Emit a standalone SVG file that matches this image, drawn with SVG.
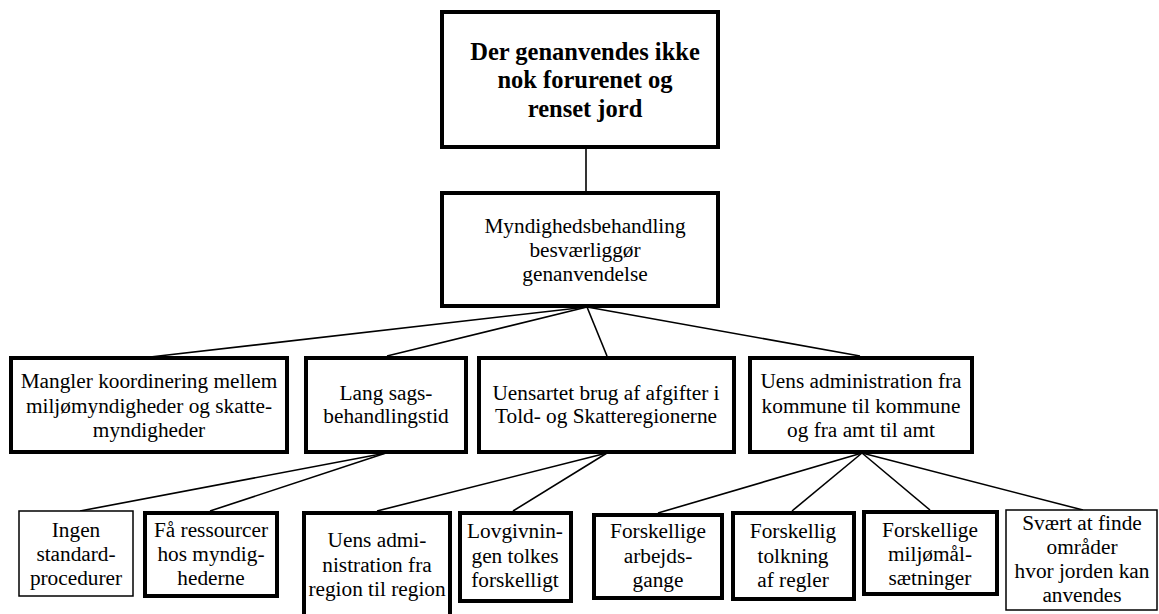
<svg xmlns="http://www.w3.org/2000/svg" width="1159" height="614" viewBox="0 0 1159 614">
  <style>
    .box { fill: #ffffff; stroke: #000000; stroke-width: 4; }
    .thin { fill: #ffffff; stroke: #000000; stroke-width: 1.5; }
    .lbl { font-family: "Liberation Serif", "Times New Roman", serif; font-size: 21.3px; fill: #000000; text-anchor: middle; }
    .head { font-family: "Liberation Serif", "Times New Roman", serif; font-size: 24.5px; font-weight: bold; fill: #000000; text-anchor: middle; }
    .conn line { stroke: #000000; stroke-width: 1.6; }
  </style>
  <rect width="1159" height="614" fill="#ffffff"/>

  <!-- connectors -->
  <g id="connectors" class="conn">
    <line x1="586" y1="148" x2="586" y2="193"/>
    <line x1="587" y1="307" x2="150" y2="357"/>
    <line x1="587" y1="307" x2="387" y2="356"/>
    <line x1="587" y1="307" x2="607" y2="356"/>
    <line x1="587" y1="307" x2="860" y2="356"/>
    <line x1="386" y1="453" x2="80" y2="511"/>
    <line x1="386" y1="453" x2="210" y2="511"/>
    <line x1="607" y1="453" x2="377" y2="511"/>
    <line x1="607" y1="453" x2="513" y2="511"/>
    <line x1="862" y1="453" x2="658" y2="513"/>
    <line x1="862" y1="453" x2="792" y2="511"/>
    <line x1="862" y1="453" x2="930" y2="510"/>
    <line x1="862" y1="453" x2="1083" y2="510"/>
  </g>

  <!-- root problem -->
  <g id="n-root">
    <rect class="box" x="442" y="12" width="276" height="135"/>
    <text class="head" x="585" y="60">Der genanvendes ikke</text>
    <text class="head" x="585" y="88">nok forurenet og</text>
    <text class="head" x="585" y="117">renset jord</text>
  </g>

  <g id="n-myndighed">
    <rect class="box" x="442" y="193" width="276" height="113"/>
    <text class="lbl" x="585" y="233">Myndighedsbehandling</text>
    <text class="lbl" x="585" y="257">besværliggør</text>
    <text class="lbl" x="585" y="281">genanvendelse</text>
  </g>

  <!-- second level -->
  <g id="n-koordinering">
    <rect class="box" x="11" y="358" width="276" height="94"/>
    <text class="lbl" x="149" y="388">Mangler koordinering mellem</text>
    <text class="lbl" x="149" y="413">miljømyndigheder og skatte-</text>
    <text class="lbl" x="149" y="437">myndigheder</text>
  </g>

  <g id="n-sagsbehandling">
    <rect class="box" x="306" y="358" width="160" height="94"/>
    <text class="lbl" x="386" y="400">Lang sags-</text>
    <text class="lbl" x="386" y="423">behandlingstid</text>
  </g>

  <g id="n-afgifter">
    <rect class="box" x="479" y="358" width="255" height="94"/>
    <text class="lbl" x="606" y="400">Uensartet brug af afgifter i</text>
    <text class="lbl" x="606" y="423">Told- og Skatteregionerne</text>
  </g>

  <g id="n-kommune">
    <rect class="box" x="750" y="358" width="222" height="94"/>
    <text class="lbl" x="861" y="388">Uens administration fra</text>
    <text class="lbl" x="861" y="413">kommune til kommune</text>
    <text class="lbl" x="861" y="437">og fra amt til amt</text>
  </g>

  <!-- third level -->
  <g id="n-standard">
    <rect class="thin" x="19" y="511" width="114" height="85"/>
    <text class="lbl" x="76" y="537">Ingen</text>
    <text class="lbl" x="76" y="561">standard-</text>
    <text class="lbl" x="76" y="585">procedurer</text>
  </g>

  <g id="n-ressourcer">
    <rect class="box" x="145" y="513" width="132" height="83"/>
    <text class="lbl" x="211" y="537">Få ressourcer</text>
    <text class="lbl" x="211" y="561">hos myndig-</text>
    <text class="lbl" x="211" y="585">hederne</text>
  </g>

  <g id="n-region">
    <rect class="box" x="304" y="513" width="146" height="110"/>
    <text class="lbl" x="377" y="547">Uens admi-</text>
    <text class="lbl" x="377" y="572">nistration fra</text>
    <text class="lbl" x="377" y="596">region til region</text>
  </g>

  <g id="n-lovgivning">
    <rect class="box" x="460" y="513" width="111" height="88"/>
    <text class="lbl" x="515" y="538">Lovgivnin-</text>
    <text class="lbl" x="515" y="563">gen tolkes</text>
    <text class="lbl" x="515" y="587">forskelligt</text>
  </g>

  <g id="n-arbejdsgange">
    <rect class="box" x="594" y="515" width="128" height="83"/>
    <text class="lbl" x="658" y="538">Forskellige</text>
    <text class="lbl" x="658" y="563">arbejds-</text>
    <text class="lbl" x="658" y="587">gange</text>
  </g>

  <g id="n-tolkning">
    <rect class="box" x="733" y="513" width="121" height="86"/>
    <text class="lbl" x="793" y="538">Forskellig</text>
    <text class="lbl" x="793" y="563">tolkning</text>
    <text class="lbl" x="793" y="587">af regler</text>
  </g>

  <g id="n-miljomaal">
    <rect class="box" x="864" y="512" width="133" height="82"/>
    <text class="lbl" x="930" y="537">Forskellige</text>
    <text class="lbl" x="930" y="561">miljømål-</text>
    <text class="lbl" x="930" y="585">sætninger</text>
  </g>

  <g id="n-omraader">
    <rect class="thin" x="1006" y="510" width="151" height="100"/>
    <text class="lbl" x="1082" y="530">Svært at finde</text>
    <text class="lbl" x="1082" y="554">områder</text>
    <text class="lbl" x="1082" y="578">hvor jorden kan</text>
    <text class="lbl" x="1082" y="602">anvendes</text>
  </g>
</svg>
